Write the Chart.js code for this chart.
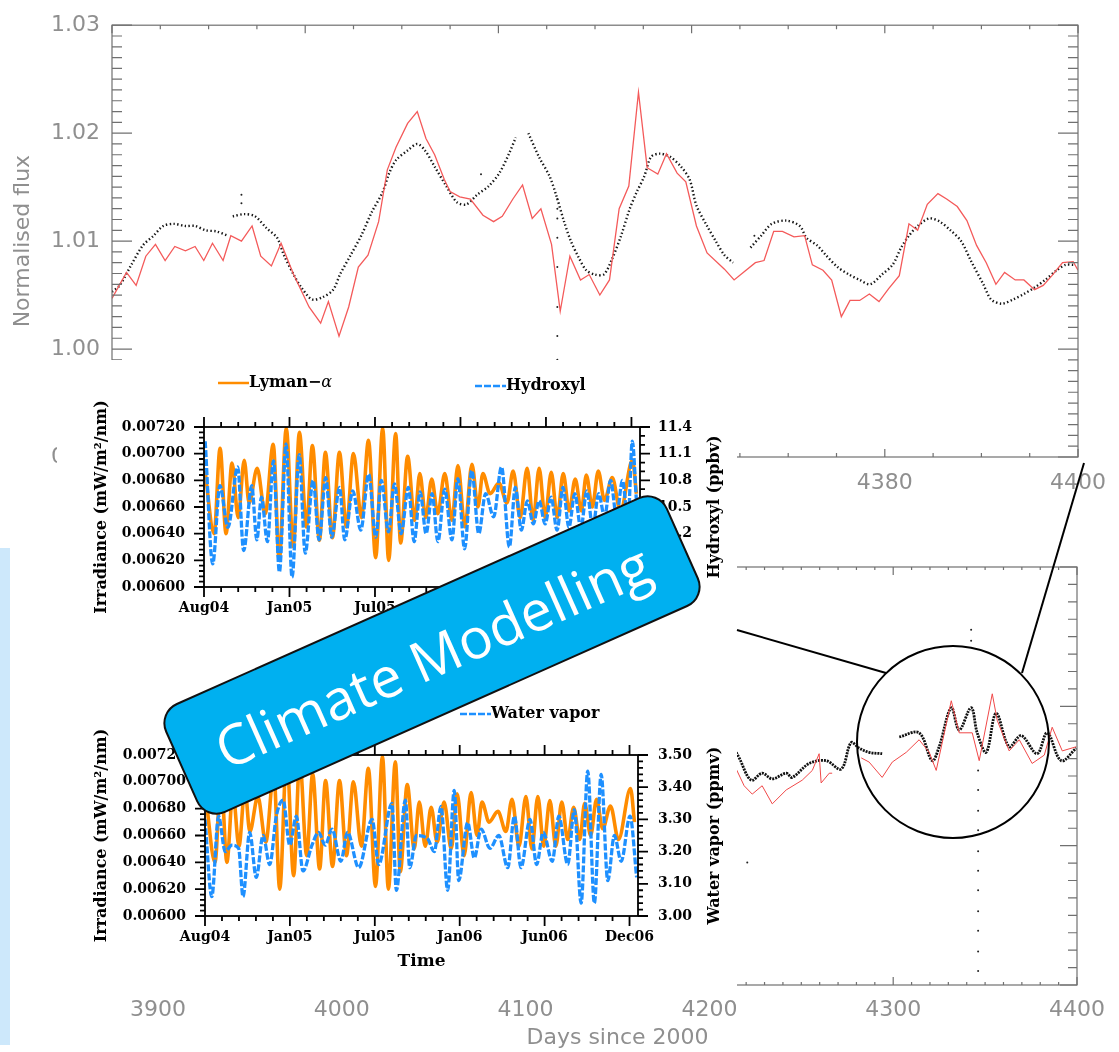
<!DOCTYPE html>
<html lang="en">
<head>
<meta charset="utf-8">
<title>Climate Modelling</title>
<script src="https://cdn.jsdelivr.net/npm/chart.js@4.4.1/dist/chart.umd.min.js"></script>
<style>
  html, body { margin: 0; padding: 0; background: #fff; }
  #page { position: relative; width: 1119px; height: 1052px; overflow: hidden; background: #fff; }
  #page canvas, #page .layer { position: absolute; }
  #strip { left: 0; top: 548px; width: 10px; height: 497px; background: #cde8fb; }
  #insetBg { left: 57px; top: 360px; width: 680px; height: 630px; background: #fff; }
  #badge {
    left: 157px; top: 595px; width: 550px; height: 120px;
    box-sizing: border-box; border: 2px solid #111; border-radius: 22px;
    background: #00b0f0; color: #fff;
    transform: rotate(-24deg);
    display: flex; align-items: center; justify-content: center;
    font-family: 'Open Sans', 'Noto Sans', sans-serif; font-size: 56px; line-height: 1;
  }
</style>
</head>
<body>
<div id="page">
  <div id="strip" class="layer"></div>
  <canvas id="topChart" width="1119" height="520" style="left:0;top:0"></canvas>
  <canvas id="lowChart" width="1119" height="512" style="left:0;top:540px"></canvas>
  <div id="insetBg" class="layer"></div>
  <canvas id="ohChart" width="677" height="268" style="left:60px;top:360px"></canvas>
  <canvas id="h2oChart" width="677" height="300" style="left:60px;top:690px"></canvas>
  <svg class="layer" style="left:0;top:0" width="1119" height="1052">
    <g fill="none" stroke="#000" stroke-width="2">
      <circle cx="953" cy="742" r="96"/>
      <line x1="737" y1="630" x2="886" y2="673"/>
      <line x1="1084" y1="463" x2="1022" y2="673"/>
    </g>
  </svg>
  <div id="badge" class="layer">Climate Modelling</div>
</div>

<script>
// ---- top panel (days since 2000, normalised flux) ----
const topRedDays = [4300.0, 4301.5, 4302.5, 4303.5, 4304.5, 4305.5, 4306.5, 4307.6, 4308.6, 4309.5,
  4310.4, 4311.5, 4312.3, 4313.4, 4314.5, 4315.4, 4316.5, 4317.5, 4318.8, 4320.4,
  4321.6, 4322.4, 4323.5, 4324.5, 4325.5, 4326.5, 4327.6, 4328.5, 4329.4, 4330.6,
  4331.6, 4332.5, 4333.4, 4334.4, 4335.0, 4336.0, 4337.1, 4338.4, 4339.5, 4340.4,
  4341.5, 4342.5, 4343.5, 4344.4, 4345.5, 4346.4, 4347.4, 4348.5, 4349.4, 4350.5,
  4351.5, 4352.5, 4353.5, 4354.5, 4355.4, 4356.5, 4357.4, 4358.5, 4359.4, 4360.5,
  4361.6, 4363.4, 4364.4, 4366.6, 4367.5, 4368.5, 4369.4, 4370.6, 4371.7, 4372.5,
  4373.6, 4374.5, 4375.5, 4376.4, 4377.4, 4378.4, 4379.4, 4380.4, 4381.5, 4382.5,
  4383.4, 4384.4, 4385.5, 4386.4, 4387.5, 4388.5, 4389.5, 4390.5, 4391.5, 4392.4,
  4393.5, 4394.4, 4395.5, 4396.4, 4397.3, 4398.4, 4399.5, 4400.0];
const topRedFlux = [1.0047, 1.0071, 1.0059, 1.0086, 1.0097, 1.0082, 1.0095, 1.0091, 1.0095, 1.0082,
  1.0098, 1.0082, 1.0105, 1.0100, 1.0114, 1.0086, 1.0077, 1.0098, 1.0069, 1.0039,
  1.0024, 1.0044, 1.0012, 1.0039, 1.0076, 1.0087, 1.0118, 1.0166, 1.0187, 1.0209,
  1.0220, 1.0195, 1.0180, 1.0157, 1.0146, 1.0141, 1.0139, 1.0124, 1.0118, 1.0123,
  1.0139, 1.0152, 1.0121, 1.0130, 1.0097, 1.0035, 1.0086, 1.0064, 1.0069, 1.0050,
  1.0064, 1.0130, 1.0151, 1.0238, 1.0168, 1.0162, 1.0181, 1.0163, 1.0155, 1.0114,
  1.0089, 1.0074, 1.0064, 1.0080, 1.0082, 1.0109, 1.0109, 1.0104, 1.0105, 1.0078,
  1.0073, 1.0064, 1.0030, 1.0045, 1.0045, 1.0051, 1.0044, 1.0056, 1.0068, 1.0116,
  1.0110, 1.0134, 1.0144, 1.0139, 1.0132, 1.0119, 1.0096, 1.0080, 1.0060, 1.0071,
  1.0064, 1.0064, 1.0055, 1.0059, 1.0068, 1.0080, 1.0081, 1.0073];
const topDotDays = [4300.0, 4300.8, 4302.0, 4303.2, 4304.3, 4305.3, 4306.4, 4307.6, 4308.6, 4309.7, 4310.8, 4312.0, 4312.2,
  4312.5, 4313.7, 4314.8, 4316.0, 4317.1, 4317.8, 4318.8, 4319.6, 4320.7, 4321.8, 4322.9, 4323.6, 4324.7, 4325.8,
  4326.9, 4328.0, 4328.7, 4329.4, 4330.6, 4331.6, 4332.4, 4333.4, 4334.6, 4335.7, 4336.7, 4337.8, 4339.0, 4340.1,
  4341.1, 4341.8, 4342.4,
  4343.1, 4344.2, 4345.3, 4346.0, 4346.8, 4347.5, 4348.3, 4349.1, 4350.0, 4350.9, 4351.7, 4352.7, 4353.6, 4354.3,
  4355.1, 4355.8, 4356.7, 4357.8, 4358.9, 4359.8, 4360.5, 4361.6, 4362.5, 4363.4, 4364.3, 4365.2,
  4366.1, 4367.2, 4368.3, 4369.8, 4371.2, 4371.9, 4373.0, 4373.9, 4375.1, 4376.3, 4377.4, 4378.5, 4379.7, 4380.8,
  4381.7, 4382.5, 4383.4, 4384.6, 4385.7, 4386.8, 4387.9, 4388.9, 4390.2, 4391.0, 4392.1, 4393.3, 4394.4, 4395.5,
  4396.6, 4397.8, 4398.7, 4399.5];
const topDotFlux = [1.0053, 1.0059, 1.0078, 1.0096, 1.0105, 1.0114, 1.0116, 1.0114, 1.0114, 1.0110, 1.0109, 1.0105, null,
  1.0123, 1.0125, 1.0123, 1.0112, 1.0103, 1.0087, 1.0069, 1.0057, 1.0046, 1.0048, 1.0055, 1.0069, 1.0087, 1.0105,
  1.0127, 1.0145, 1.0163, 1.0175, 1.0184, 1.0190, 1.0184, 1.0169, 1.0151, 1.0136, 1.0134, 1.0143, 1.0151, 1.0163,
  1.0181, 1.0196, null,
  1.0200, 1.0178, 1.0160, 1.0142, 1.0118, 1.0100, 1.0085, 1.0073, 1.0069, 1.0069, 1.0082, 1.0105, 1.0130, 1.0145,
  1.0160, 1.0178, 1.0181, 1.0178, 1.0169, 1.0157, 1.0133, 1.0114, 1.0100, 1.0087, 1.0080, null,
  1.0094, 1.0105, 1.0116, 1.0119, 1.0114, 1.0103, 1.0096, 1.0087, 1.0076, 1.0069, 1.0064, 1.0060, 1.0069, 1.0078,
  1.0094, 1.0105, 1.0114, 1.0121, 1.0118, 1.0110, 1.0100, 1.0082, 1.0060, 1.0046, 1.0042, 1.0046, 1.0051, 1.0057,
  1.0064, 1.0073, 1.0078, 1.0078];
const topStrayDays = [4313.4, 4313.4, 4338.2, 4366.5, 4346.1, 4346.1, 4346.1, 4346.1, 4346.1, 4346.1, 4346.1, 4346.1];
const topStrayFlux = [1.0143, 1.0135, 1.0162, 1.0105, 1.0139, 1.0130, 1.0121, 1.0103, 1.0076, 1.0039, 1.0012, 0.9990];
const topDayTicks = [4300, 4320, 4340, 4360, 4380, 4400];
const topFluxTicks = [0.99, 1.00, 1.01, 1.02, 1.03];

// ---- lower panel (same quantities, 3900-4400) ----
const lowDotDays = [4214.6, 4216.2, 4222.7, 4228.7, 4234.2, 4241.8, 4245.0, 4254.3, 4263.5, 4271.7, 4277.1, 4281.5,
  4286.9, 4294.0, 4298.0, 4303.3, 4314.1, 4321.2, 4325.0, 4331.6, 4335.9, 4342.4, 4345.7, 4350.6, 4356.0, 4363.1,
  4369.6, 4378.3, 4383.8, 4391.4, 4399.6];
const lowDotFlux = [1.0167, 1.0163, 1.0147, 1.0152, 1.0148, 1.0152, 1.0149, 1.0159, 1.0161, 1.0155, 1.0174, 1.0170,
  1.0167, 1.0166, null, 1.0178, 1.0181, 1.0161, 1.0171, 1.0199, 1.0183, 1.0199, 1.0181, 1.0167, 1.0195, 1.0171,
  1.0179, 1.0166, 1.0181, 1.0161, 1.0170];
const lowRedDays = [4214.6, 4218.9, 4223.3, 4228.7, 4234.2, 4241.8, 4250.5, 4256.0, 4259.7, 4260.8, 4265.2, 4266.8,
  4274.0, 4282.6, 4286.9, 4294.0, 4299.5, 4307.1, 4314.1, 4319.6, 4323.4, 4331.6, 4335.9, 4343.0, 4346.8, 4353.9,
  4356.6, 4363.1, 4368.6, 4375.6, 4382.2, 4386.5, 4392.0, 4399.6];
const lowRedFlux = [1.0155, 1.0143, 1.0137, 1.0143, 1.0130, 1.0140, 1.0147, 1.0154, 1.0166, 1.0145, 1.0152, 1.0152,
  null, 1.0163, 1.0160, 1.0149, 1.0160, 1.0167, 1.0176, 1.0167, 1.0154, 1.0204, 1.0181, 1.0181, 1.0161, 1.0209,
  1.0190, 1.0168, 1.0176, 1.0159, 1.0165, 1.0185, 1.0168, 1.0171];
const lowStrayDays = [4220.6, 4342.4, 4342.4, 4346.2, 4346.2, 4346.2, 4346.2, 4346.2, 4346.2, 4346.2, 4346.2, 4346.2, 4346.2, 4346.2];
const lowStrayFlux = [1.0088, 1.0255, 1.0247, 1.0154, 1.0140, 1.0125, 1.0111, 1.0096, 1.0082, 1.0068, 1.0053, 1.0039, 1.0024, 1.0010];
const lowDayTicks = [3900, 4000, 4100, 4200, 4300, 4400];
const lowFluxTicks = [1.00, 1.01, 1.02, 1.03];

// ---- insets: time in tick steps from Aug04 ----
const monthTicks = [0, 5, 10, 15, 20, 25];
const monthLabels = ['Aug04', 'Jan05', 'Jul05', 'Jan06', 'Jun06', 'Dec06'];
const lymanT = [0.06, 0.59, 0.94, 1.29, 1.64, 2.00, 2.35, 2.64, 3.11, 3.58, 4.05, 4.40, 4.81, 5.22, 5.58,
  5.99, 6.34, 6.75, 7.10, 7.51, 7.92, 8.33, 8.74, 9.21, 9.62, 10.04, 10.45, 10.80, 11.21, 11.50,
  11.91, 12.32, 12.62, 12.97, 13.32, 13.67, 14.08, 14.50, 14.85, 15.26, 15.67, 16.02, 16.31, 16.73, 17.25,
  17.72, 18.08, 18.49, 18.90, 19.25, 19.60, 19.95, 20.31, 20.66, 21.01, 21.36, 21.71, 22.07, 22.36, 22.71,
  23.06, 23.42, 23.88, 24.35, 25.06, 25.29];
const lymanIrr = [0.00687, 0.00640, 0.00704, 0.00640, 0.00693, 0.00652, 0.00695, 0.00663, 0.00689, 0.00655,
  0.00707, 0.00620, 0.00719, 0.00630, 0.00716, 0.00645, 0.00706, 0.00635, 0.00701, 0.00637,
  0.00701, 0.00645, 0.00700, 0.00652, 0.00710, 0.00622, 0.00719, 0.00620, 0.00715, 0.00633,
  0.00698, 0.00650, 0.00685, 0.00652, 0.00681, 0.00655, 0.00685, 0.00650, 0.00691, 0.00645,
  0.00692, 0.00660, 0.00685, 0.00670, 0.00678, 0.00663, 0.00687, 0.00652, 0.00689, 0.00650,
  0.00689, 0.00652, 0.00686, 0.00652, 0.00685, 0.00657, 0.00681, 0.00657, 0.00684, 0.00660,
  0.00687, 0.00665, 0.00682, 0.00657, 0.00695, 0.00670];
const hydroxylT = [0.07, 0.51, 0.93, 1.40, 1.97, 2.32, 2.79, 3.09, 3.36, 3.71, 4.06, 4.41, 4.80, 5.15, 5.57,
  5.92, 6.38, 6.73, 7.12, 7.47, 7.93, 8.23, 8.70, 9.17, 9.63, 10.05, 10.37, 10.79, 11.14, 11.53,
  11.95, 12.29, 12.64, 12.99, 13.34, 13.68, 14.08, 14.50, 14.85, 15.24, 15.66, 16.07, 16.47, 16.94, 17.40,
  17.86, 18.21, 18.56, 18.91, 19.26, 19.60, 19.95, 20.30, 20.65, 21.00, 21.34, 21.69, 22.04, 22.39, 22.74,
  23.08, 23.43, 23.78, 24.13, 24.47, 24.80, 25.05, 25.29];
const hydroxylPpbv = [11.24, 9.86, 10.74, 10.27, 10.95, 10.01, 10.74, 10.13, 10.61, 10.11, 11.02, 9.77, 11.21, 9.71, 11.09,
  9.98, 10.80, 10.13, 10.83, 10.16, 10.72, 10.13, 10.68, 10.24, 10.87, 10.16, 10.80, 10.22, 10.76, 10.20,
  10.72, 10.11, 10.67, 10.20, 10.65, 10.11, 10.70, 10.13, 10.82, 10.03, 10.91, 10.20, 10.65, 10.39, 10.95,
  10.05, 10.72, 10.24, 10.57, 10.31, 10.57, 10.31, 10.61, 10.24, 10.72, 10.27, 10.65, 10.26, 10.68, 10.27,
  10.65, 10.39, 10.80, 10.39, 10.80, 10.35, 11.24, 10.57];
const vaporT = [0.00, 0.40, 0.80, 1.19, 1.58, 1.98, 2.24, 2.63, 3.02, 3.42, 3.81, 4.20, 4.60, 4.99, 5.38,
  5.77, 6.30, 6.69, 7.08, 7.48, 8.00, 8.39, 9.05, 9.84, 10.23, 11.01, 11.27, 11.80, 12.06, 12.45,
  13.11, 13.50, 13.90, 14.29, 14.68, 14.94, 15.47, 15.86, 16.26, 16.78, 17.30, 17.83, 18.22, 18.61, 19.14,
  19.53, 19.92, 20.45, 20.84, 21.36, 21.75, 22.15, 22.54, 22.93, 23.33, 23.72, 24.11, 24.51, 25.03, 25.42];
const vaporPpmv = [3.30, 3.06, 3.31, 3.20, 3.22, 3.21, 3.06, 3.26, 3.12, 3.25, 3.16, 3.31, 3.36, 3.22, 3.31,
  3.14, 3.22, 3.26, 3.22, 3.27, 3.17, 3.26, 3.15, 3.30, 3.16, 3.35, 3.08, 3.36, 3.15, 3.25,
  3.24, 3.20, 3.34, 3.08, 3.39, 3.11, 3.29, 3.18, 3.27, 3.21, 3.25, 3.15, 3.31, 3.15, 3.30,
  3.16, 3.26, 3.17, 3.31, 3.16, 3.33, 3.04, 3.45, 3.04, 3.44, 3.11, 3.25, 3.17, 3.31, 3.12];
const irrTicks = [0.0060, 0.0062, 0.0064, 0.0066, 0.0068, 0.0070, 0.0072];
const hydroxylTicks = [9.6, 9.9, 10.2, 10.5, 10.8, 11.1, 11.4];
const vaporTicks = [3.0, 3.1, 3.2, 3.3, 3.4, 3.5];

const pts = (xs, ys) => xs.map((x, i) => ({ x: x, y: ys[i] }));
const fixedTicks = values => axis => { axis.ticks = values.map(v => ({ value: v })); };
const fixSize = (prop, size) => axis => { axis[prop] = size; };

const grey = '#8f8f8f';
const greyFont = { family: 'DejaVu Sans', size: 22 };
const nclFont = { family: 'DejaVu Serif', size: 14, weight: 'bold' };
const nclTitle = { family: 'DejaVu Serif', size: 16, weight: 'bold' };
const orange = '#ff8c00';
const blue = '#1e90ff';

// frame box plus major/minor tick marks, placed with the chart's own scales
const frameTicks = {
  id: 'frameTicks',
  afterDatasetsDraw(chart, args, o) {
    const { ctx, chartArea: a } = chart;
    ctx.save();
    ctx.strokeStyle = o.color;
    ctx.lineWidth = o.lineWidth;
    ctx.strokeRect(a.left, a.top, a.right - a.left, a.bottom - a.top);
    o.marks.forEach(m => {
      const s = chart.scales[m.scale];
      const n = Math.round((m.to - m.from) / m.step);
      const d = m.out ? -1 : 1;
      ctx.beginPath();
      for (let i = 0; i <= n; i++) {
        const v = m.from + i * m.step;
        const k = (v - m.from) / m.major;
        const len = Math.abs(k - Math.round(k)) < 1e-6 ? m.majorLen : m.minorLen;
        const p = s.getPixelForValue(v);
        if (s.isHorizontal() ? (p < a.left - 0.5 || p > a.right + 0.5) : (p < a.top - 0.5 || p > a.bottom + 0.5)) continue;
        m.sides.forEach(side => {
          if (side === 'bottom') { ctx.moveTo(p, a.bottom); ctx.lineTo(p, a.bottom - d * len); }
          if (side === 'top') { ctx.moveTo(p, a.top); ctx.lineTo(p, a.top + d * len); }
          if (side === 'left') { ctx.moveTo(a.left, p); ctx.lineTo(a.left + d * len, p); }
          if (side === 'right') { ctx.moveTo(a.right, p); ctx.lineTo(a.right - d * len, p); }
        });
      }
      ctx.stroke();
    });
    if (o.rightTitle) {
      ctx.translate(o.rightTitle.x, (a.top + a.bottom) / 2);
      ctx.rotate(-Math.PI / 2);
      ctx.fillStyle = '#000';
      ctx.font = o.rightTitle.font;
      ctx.textAlign = 'center';
      ctx.textBaseline = 'middle';
      ctx.fillText(o.rightTitle.text, 0, 0);
    }
    ctx.restore();
  }
};

// NCL-style key: a short line sample followed directly by the label
const lineKey = {
  id: 'lineKey',
  afterDraw(chart, args, o) {
    const ctx = chart.ctx;
    o.items.forEach(it => {
      const ds = chart.data.datasets[it.dataset];
      ctx.save();
      ctx.strokeStyle = ds.borderColor;
      ctx.lineWidth = 2.5;
      ctx.setLineDash(ds.borderDash || []);
      ctx.beginPath();
      ctx.moveTo(it.x, it.y);
      ctx.lineTo(it.x + o.len, it.y);
      ctx.stroke();
      ctx.fillStyle = '#000';
      ctx.textBaseline = 'middle';
      let x = it.x + o.len;
      ds.label.split(/(α)/).forEach(part => {
        if (!part) return;
        ctx.font = part === 'α' ? o.greekFont : o.font;
        ctx.fillText(part, x, it.y);
        x += ctx.measureText(part).width;
      });
      ctx.restore();
    });
  }
};

const noGrid = { display: false, drawTicks: false };
const common = {
  responsive: false,
  animation: false,
  devicePixelRatio: 1,
  events: []
};

new Chart(document.getElementById('topChart'), {
  type: 'line',
  data: {
    datasets: [
      { label: 'reconstruction', data: pts(topRedDays, topRedFlux), borderColor: '#f45a5a', borderWidth: 1.3,
        pointRadius: 0, tension: 0, order: 0 },
      { label: 'observation', data: pts(topDotDays, topDotFlux), borderColor: '#161616', borderWidth: 2.4,
        borderDash: [1.4, 2.4], pointRadius: 0, tension: 0.3, order: 1 },
      { type: 'scatter', label: 'stray', data: pts(topStrayDays, topStrayFlux), backgroundColor: '#222',
        pointRadius: 1, borderWidth: 0, order: 2 }
    ]
  },
  options: Object.assign({}, common, {
    layout: { padding: { top: 12, right: 29, left: 0, bottom: 0 } },
    plugins: {
      legend: { display: false },
      tooltip: { enabled: false },
      frameTicks: {
        color: '#707070', lineWidth: 1.2,
        marks: [
          { scale: 'x', sides: ['bottom', 'top'], from: 4300, to: 4400, step: 5, major: 20, majorLen: 8, minorLen: 4 },
          { scale: 'y', sides: ['left', 'right'], from: 0.99, to: 1.03, step: 0.001, major: 0.01, majorLen: 20, minorLen: 10 }
        ]
      }
    },
    scales: {
      x: {
        type: 'linear', min: 4300, max: 4400,
        afterBuildTicks: fixedTicks(topDayTicks), afterFit: fixSize('height', 63),
        grid: noGrid, border: { display: false },
        ticks: { color: grey, font: greyFont, padding: 13, maxRotation: 0, autoSkip: false, callback: v => String(v) }
      },
      y: {
        min: 0.99, max: 1.03,
        afterBuildTicks: fixedTicks(topFluxTicks), afterFit: fixSize('width', 112),
        grid: noGrid, border: { display: false },
        ticks: { color: grey, font: greyFont, padding: 12, callback: v => v.toFixed(2) },
        title: { display: true, text: 'Normalised flux', color: grey, font: greyFont, padding: { top: 10, bottom: 0 } }
      }
    }
  }),
  plugins: [frameTicks]
});

new Chart(document.getElementById('lowChart'), {
  type: 'line',
  data: {
    datasets: [
      { label: 'reconstruction', data: pts(lowRedDays, lowRedFlux), borderColor: '#f04848', borderWidth: 1,
        pointRadius: 0, tension: 0, order: 0 },
      { label: 'observation', data: pts(lowDotDays, lowDotFlux), borderColor: '#111', borderWidth: 2.8,
        borderDash: [2, 1], pointRadius: 0, tension: 0.35, order: 1 },
      { type: 'scatter', label: 'stray', data: pts(lowStrayDays, lowStrayFlux), backgroundColor: '#222',
        pointRadius: 1, borderWidth: 0, order: 2 }
    ]
  },
  options: Object.assign({}, common, {
    layout: { padding: { top: 27, right: 42, left: 0, bottom: 0 } },
    plugins: {
      legend: { display: false },
      tooltip: { enabled: false },
      frameTicks: {
        color: '#707070', lineWidth: 1.2,
        marks: [
          { scale: 'x', sides: ['bottom', 'top'], from: 3900, to: 4400, step: 10, major: 100, majorLen: 8, minorLen: 3 },
          { scale: 'y', sides: ['left', 'right'], from: 1.00, to: 1.03, step: 0.00125, major: 0.01, majorLen: 17, minorLen: 9 }
        ]
      }
    },
    scales: {
      x: {
        type: 'linear', min: 3900, max: 4400,
        afterBuildTicks: fixedTicks(lowDayTicks), afterFit: fixSize('height', 67),
        grid: noGrid, border: { display: false },
        ticks: { color: grey, font: greyFont, padding: 12, maxRotation: 0, autoSkip: false, callback: v => String(v) },
        title: { display: true, text: 'Days since 2000', color: grey, font: greyFont, padding: { top: 0, bottom: 1 } }
      },
      y: {
        min: 1.00, max: 1.03,
        afterBuildTicks: fixedTicks(lowFluxTicks), afterFit: fixSize('width', 158),
        grid: noGrid, border: { display: false },
        ticks: { display: false }
      }
    }
  }),
  plugins: [frameTicks]
});

function insetChart(id, opts) {
  const lyman = { label: 'Lyman−α', data: pts(lymanT, lymanIrr), yAxisID: 'y', borderColor: orange,
    borderWidth: 3.6, pointRadius: 0, cubicInterpolationMode: 'monotone', order: 1 };
  const other = { label: opts.label, data: pts(opts.t, opts.v), yAxisID: 'y2', borderColor: blue,
    borderWidth: 3.3, borderDash: [7, 2], pointRadius: 0, cubicInterpolationMode: 'monotone', order: 0 };
  return new Chart(document.getElementById(id), {
    type: 'line',
    data: { datasets: [lyman, other] },
    options: Object.assign({}, common, {
      layout: { padding: { top: opts.top, right: 0, left: 0, bottom: 0 } },
      plugins: {
        legend: { display: false },
        tooltip: { enabled: false },
        lineKey: {
          len: 31, font: 'bold 16px "DejaVu Serif"', greekFont: 'italic 16px "DejaVu Serif"',
          items: [{ dataset: 0, x: 158, y: opts.keyY }, { dataset: 1, x: opts.keyX, y: opts.keyY + 3 }]
        },
        frameTicks: {
          color: '#000', lineWidth: 1.8,
          rightTitle: { text: opts.rightTitle, x: 655, font: 'bold 16px "DejaVu Serif"' },
          marks: [
            { scale: 'x', sides: ['bottom', 'top'], from: 0, to: 25, step: 1, major: 5, majorLen: 10, minorLen: 5, out: true },
            { scale: 'y', sides: ['left'], from: 0.006, to: 0.0072, step: 0.00004, major: 0.0002, majorLen: 10, minorLen: 5, out: true },
            { scale: 'y2', sides: ['right'], from: opts.rMin, to: opts.rMax, step: opts.rMinor, major: opts.rMajor, majorLen: 10, minorLen: 5, out: true }
          ]
        }
      },
      scales: {
        x: {
          type: 'linear', min: 0, max: 25.5,
          afterBuildTicks: fixedTicks(monthTicks), afterFit: fixSize('height', opts.xHeight),
          grid: noGrid, border: { display: false },
          ticks: { color: '#000', font: nclFont, padding: 13, maxRotation: 0, autoSkip: false, callback: (v, i) => monthLabels[i] },
          title: { display: !!opts.xTitle, text: opts.xTitle || '', color: '#000',
            font: { family: 'DejaVu Serif', size: 17, weight: 'bold' }, padding: { top: 0, bottom: 18 } }
        },
        y: {
          position: 'left', min: 0.006, max: 0.0072,
          afterBuildTicks: fixedTicks(irrTicks), afterFit: fixSize('width', opts.left),
          grid: noGrid, border: { display: false },
          ticks: { color: '#000', font: nclFont, padding: 19, callback: v => v.toFixed(5) },
          title: { display: true, text: 'Irradiance (mW/m²/nm)', color: '#000', font: nclTitle, padding: { top: 32, bottom: 0 } }
        },
        y2: {
          position: 'right', min: opts.rMin, max: opts.rMax,
          afterBuildTicks: fixedTicks(opts.rTicks), afterFit: fixSize('width', 677 - opts.right),
          grid: noGrid, border: { display: false },
          ticks: { color: '#000', font: nclFont, padding: opts.rPad, callback: v => v.toFixed(opts.rDigits) }
        }
      }
    }),
    plugins: [frameTicks, lineKey]
  });
}

insetChart('ohChart', {
  label: 'Hydroxyl', t: hydroxylT, v: hydroxylPpbv, rTicks: hydroxylTicks,
  rMin: 9.6, rMax: 11.4, rMinor: 0.1, rMajor: 0.3, rDigits: 1, rPad: 18,
  rightTitle: 'Hydroxyl (ppbv)',
  top: 67, left: 144, right: 580, xHeight: 41, keyY: 23, keyX: 415
});

insetChart('h2oChart', {
  label: 'Water vapor', t: vaporT, v: vaporPpmv, rTicks: vaporTicks,
  rMin: 3.0, rMax: 3.5, rMinor: 0.02, rMajor: 0.1, rDigits: 2, rPad: 20,
  rightTitle: 'Water vapor (ppmv)', xTitle: 'Time',
  top: 65, left: 145, right: 578, xHeight: 74, keyY: 21, keyX: 400
});
</script>
</body>
</html>
